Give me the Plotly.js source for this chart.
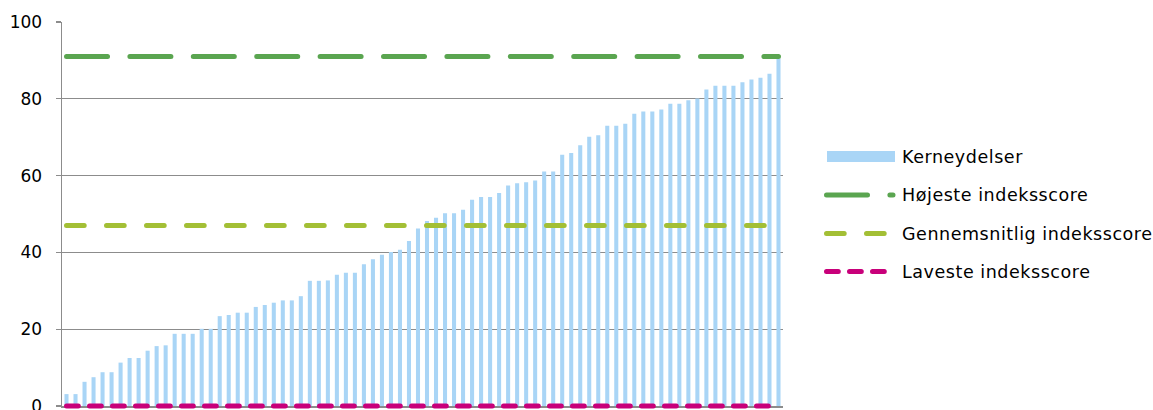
<!DOCTYPE html>
<html>
<head>
<meta charset="utf-8">
<script src="https://cdn.plot.ly/plotly-3.0.1.min.js"></script>
<style>
  html, body { margin: 0; padding: 0; background: #fff; }
  #chart { width: 1153px; height: 410px; }
  .scatterlayer path.js-line { stroke-linecap: round; }
  .shapelayer path { stroke-linecap: round; }
  #chart .cartesianlayer g[clip-path],
  #chart .cartesianlayer path[clip-path],
  #chart .cartesianlayer .plot,
  #chart .scatterlayer,
  #chart .scatterlayer g { clip-path: none !important; }
  .annotation-text { letter-spacing: 0.55px; }
</style>
</head>
<body>
<div id="chart"></div>
<script>
// Category positions (one per service unit, unlabeled in the original)
const units = [1,2,3,4,5,6,7,8,9,10,11,12,13,14,15,16,17,18,19,20,
  21,22,23,24,25,26,27,28,29,30,31,32,33,34,35,36,37,38,39,40,
  41,42,43,44,45,46,47,48,49,50,51,52,53,54,55,56,57,58,59,60,
  61,62,63,64,65,66,67,68,69,70,71,72,73,74,75,76,77,78,79,80];

// Kerneydelser index scores (sorted ascending)
const kerneydelser = [3.1,3.1,6.3,7.5,8.8,8.8,11.3,12.5,12.5,14.4,
  15.6,15.8,18.8,18.8,18.8,20.1,20.1,23.4,23.7,24.3,
  24.3,25.8,26.3,26.9,27.5,27.5,28.6,32.6,32.6,32.7,
  34.2,34.7,34.7,36.9,38.2,39.4,40.1,40.7,43.0,46.2,
  48.2,49.0,50.2,50.2,51.1,53.7,54.4,54.4,55.5,57.4,
  58.0,58.3,58.7,61.1,61.1,65.4,65.9,67.9,70.1,70.5,
  73.0,73.0,73.5,76.1,76.7,76.7,77.2,78.7,78.7,79.6,
  80.1,82.4,83.4,83.4,83.4,84.3,85.0,85.5,86.5,90.5];

const hoejeste = 91;      // Højeste indeksscore
const gennemsnit = 47;    // Gennemsnitlig indeksscore
const laveste = 0;        // Laveste indeksscore

const seriesNames = ["Kerneydelser", "Højeste indeksscore", "Gennemsnitlig indeksscore", "Laveste indeksscore"];
const yTicks = [0, 20, 40, 60, 80, 100];

const colors = {
  bar: "#a9d5f6",
  high: "#5aa550",
  avg: "#a3bf35",
  low: "#c8007a"
};
const dashes = {
  high: "41px,22.4px",
  avg: "17.7px,22.3px",
  low: "11.8px,11.2px"
};
const LW = 5;

const traces = [
  { type: "bar", x: units, y: kerneydelser, name: seriesNames[0],
    marker: { color: colors.bar, line: { width: 0 } }, hoverinfo: "x+y" },
  { type: "scatter", mode: "lines", x: units, y: units.map(() => hoejeste), name: seriesNames[1],
    line: { color: colors.high, width: LW, dash: dashes.high } },
  { type: "scatter", mode: "lines", x: units, y: units.map(() => gennemsnit), name: seriesNames[2],
    line: { color: colors.avg, width: LW, dash: dashes.avg } },
  { type: "scatter", mode: "lines", x: units, y: units.map(() => laveste), name: seriesNames[3],
    line: { color: colors.low, width: LW, dash: dashes.low }, cliponaxis: false }
];

// plot area: x 62..783 px, y 22..406 px
const PL = 62, PR = 783, PT = 22, PB = 406;
const px = v => (v - PL) / (PR - PL);
const py = v => (PB - v) / (PB - PT);

const legendFont = { family: "DejaVu Sans, Verdana, sans-serif", size: 17.5, color: "#000" };
const legendRows = [157, 195, 233.5, 271.5];

const shapes = [
  { type: "rect", xref: "paper", yref: "paper", x0: px(827), x1: px(895), y0: py(162), y1: py(151),
    fillcolor: colors.bar, line: { width: 0 } },
  { type: "line", xref: "paper", yref: "paper", x0: px(826.5), x1: px(893), y0: py(legendRows[1]), y1: py(legendRows[1]),
    line: { color: colors.high, width: LW, dash: dashes.high } },
  { type: "line", xref: "paper", yref: "paper", x0: px(826.5), x1: px(885), y0: py(legendRows[2]), y1: py(legendRows[2]),
    line: { color: colors.avg, width: LW, dash: dashes.avg } },
  { type: "line", xref: "paper", yref: "paper", x0: px(826.5), x1: px(885), y0: py(legendRows[3]), y1: py(legendRows[3]),
    line: { color: colors.low, width: LW, dash: dashes.low } }
];

const annotations = seriesNames.map((name, i) => ({
  xref: "paper", yref: "paper", x: px(900), y: py(legendRows[i]),
  xanchor: "left", yanchor: "middle", showarrow: false, text: name, font: legendFont
}));

const layout = {
  width: 1153, height: 410,
  margin: { l: PL, r: 1153 - PR, t: PT, b: 410 - PB, pad: 0 },
  paper_bgcolor: "#fff", plot_bgcolor: "#fff",
  showlegend: false,
  bargap: 0.55,
  font: { family: "DejaVu Sans, Verdana, sans-serif", size: 17, color: "#000" },
  xaxis: {
    range: [0.5, 80.5], showticklabels: false, showgrid: false, zeroline: false,
    showline: true, linecolor: "#8c8c8c", linewidth: 1.5, ticks: "", layer: "below traces"
  },
  yaxis: {
    range: [0, 100], tickvals: yTicks, ticktext: yTicks.map(String),
    showgrid: true, gridcolor: "#8c8c8c", gridwidth: 1.3, zeroline: false,
    showline: true, linecolor: "#8c8c8c", linewidth: 1.5,
    ticks: "outside", ticklen: 5, tickcolor: "#8c8c8c", tickwidth: 1.3,
    ticklabelstandoff: 10, ticklabeloverflow: "allow",
    tickfont: { family: "DejaVu Sans, Verdana, sans-serif", size: 17, color: "#000" }
  },
  shapes: shapes,
  annotations: annotations
};

Plotly.newPlot("chart", traces, layout, { staticPlot: true, displayModeBar: false });
</script>
</body>
</html>
